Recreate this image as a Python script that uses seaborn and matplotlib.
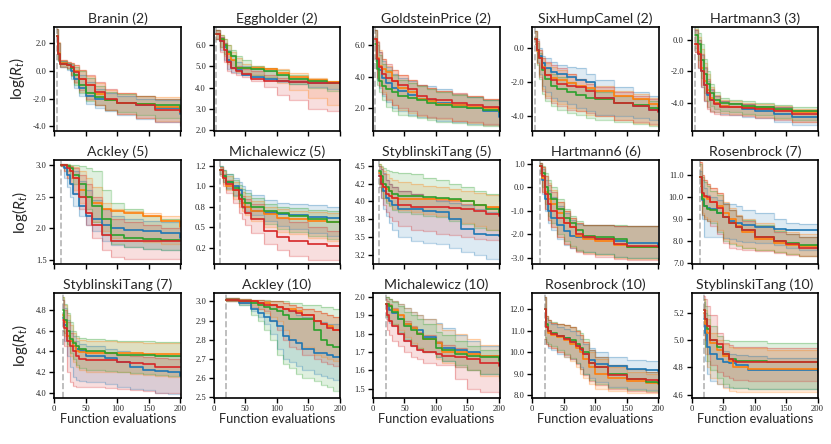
import pandas as pd
import matplotlib
matplotlib.use('Agg')
import matplotlib.pyplot as plt
from matplotlib.ticker import FormatStrFormatter
import seaborn as sns

# four methods, order: blue, orange, green, red
methods = ['m1', 'm2', 'm3', 'm4']

titles = ['Branin (2)', 'Eggholder (2)', 'GoldsteinPrice (2)', 'SixHumpCamel (2)', 'Hartmann3 (3)',
          'Ackley (5)', 'Michalewicz (5)', 'StyblinskiTang (5)', 'Hartmann6 (6)', 'Rosenbrock (7)',
          'StyblinskiTang (7)', 'Ackley (10)', 'Michalewicz (10)', 'Rosenbrock (10)', 'StyblinskiTang (10)']
n_init = [4, 4, 4, 4, 6, 10, 10, 10, 12, 14, 14, 20, 20, 20, 20]

# Branin (2)
branin_x = [4, 6, 9, 20, 26, 32, 40, 50, 65, 80, 100, 130, 160, 200]
branin_med = [[2.5, 1.2, 0.55, 0.4, 0.0, -0.6, -1.2, -1.8, -2.0, -2.1, -2.3, -2.5, -2.7, -3.1],
              [2.5, 1.3, 0.55, 0.45, 0.3, 0.0, -0.6, -1.0, -1.7, -2.1, -2.3, -2.4, -2.6, -2.95],
              [2.5, 1.2, 0.5, 0.45, 0.2, -0.3, -1.0, -1.6, -1.9, -2.1, -2.3, -2.4, -2.5, -2.75],
              [2.5, 1.2, 0.5, 0.4, 0.3, -0.1, -0.6, -1.0, -1.5, -2.0, -2.3, -2.5, -2.8, -3.0]]
branin_hi = [[3.0, 2.0, 0.7, 0.6, 0.4, 0.1, -0.3, -0.8, -1.3, -1.6, -1.8, -2.0, -2.1, -2.3],
             [3.0, 2.1, 0.8, 0.65, 0.55, 0.4, 0.1, -0.4, -0.9, -1.4, -1.6, -1.8, -1.9, -2.0],
             [3.0, 2.0, 0.75, 0.6, 0.5, 0.3, 0.0, -0.5, -1.1, -1.5, -1.7, -1.8, -2.0, -2.1],
             [3.0, 2.0, 0.8, 0.65, 0.55, 0.4, 0.1, -0.3, -0.8, -1.3, -1.6, -1.8, -2.0, -2.0]]
branin_lo = [[2.0, 0.7, 0.3, 0.1, -0.6, -1.2, -1.8, -2.4, -2.7, -2.9, -3.2, -3.5, -3.7, -3.95],
             [2.0, 0.8, 0.35, 0.2, -0.3, -0.9, -1.5, -2.1, -2.5, -2.8, -3.1, -3.4, -3.6, -3.8],
             [2.0, 0.7, 0.3, 0.15, -0.4, -1.0, -1.6, -2.2, -2.5, -2.8, -3.0, -3.2, -3.4, -3.6],
             [2.0, 0.8, 0.3, 0.2, -0.3, -0.8, -1.4, -2.0, -2.5, -2.8, -3.1, -3.4, -3.7, -3.9]]

# Eggholder (2)
egg_x = [4, 10, 16, 22, 28, 35, 45, 60, 80, 100, 120, 150, 180, 200]
egg_med = [[6.55, 6.2, 5.9, 5.3, 4.95, 4.85, 4.6, 4.5, 4.4, 4.3, 4.25, 4.22, 4.2, 4.2],
           [6.55, 6.3, 6.0, 5.6, 5.3, 4.95, 4.95, 4.95, 4.9, 4.7, 4.5, 4.35, 4.25, 4.2],
           [6.55, 6.3, 6.0, 5.7, 5.5, 4.95, 4.95, 4.9, 4.8, 4.6, 4.4, 4.3, 4.22, 4.2],
           [6.55, 6.2, 5.8, 5.2, 4.95, 4.8, 4.65, 4.4, 4.3, 4.3, 4.25, 4.22, 4.2, 4.18]]
egg_hi = [[6.7, 6.4, 6.1, 5.8, 5.5, 5.2, 5.0, 4.9, 4.8, 4.6, 4.45, 4.3, 4.28, 4.27],
          [6.7, 6.5, 6.3, 6.0, 5.7, 5.4, 5.1, 5.0, 4.95, 4.9, 4.7, 4.45, 4.3, 4.28],
          [6.7, 6.5, 6.3, 6.0, 5.8, 5.5, 5.3, 5.0, 4.95, 4.85, 4.6, 4.4, 4.3, 4.28],
          [6.7, 6.4, 6.1, 5.7, 5.3, 5.0, 4.9, 4.8, 4.6, 4.45, 4.35, 4.3, 4.27, 4.25]]
egg_lo = [[6.3, 5.8, 5.3, 4.9, 4.75, 4.7, 4.6, 4.5, 4.35, 4.25, 4.15, 4.05, 3.95, 3.9],
          [6.3, 5.9, 5.5, 5.1, 4.9, 4.75, 4.7, 4.6, 4.45, 4.2, 3.9, 3.5, 3.2, 3.1],
          [6.3, 5.9, 5.6, 5.2, 4.95, 4.8, 4.7, 4.6, 4.5, 4.3, 4.15, 4.0, 3.85, 3.75],
          [6.3, 5.7, 5.2, 4.8, 4.7, 4.6, 4.5, 4.3, 4.05, 3.65, 3.4, 3.0, 2.9, 2.2]]

# GoldsteinPrice (2)
gp_x = [4, 7, 10, 15, 20, 30, 40, 55, 70, 85, 100, 125, 150, 175, 200]
gp_med = [[6.4, 5.0, 4.4, 3.9, 3.6, 3.3, 3.1, 2.85, 2.6, 2.5, 2.35, 2.2, 2.0, 1.8, 1.45],
          [6.4, 5.2, 4.7, 4.5, 4.3, 3.7, 3.3, 3.0, 2.6, 2.45, 2.3, 2.2, 2.1, 2.0, 1.85],
          [6.1, 4.5, 3.7, 3.4, 3.2, 3.0, 2.8, 2.65, 2.5, 2.35, 2.2, 2.1, 2.0, 1.9, 1.75],
          [6.4, 5.1, 4.6, 4.2, 3.9, 3.7, 3.5, 3.2, 2.8, 2.6, 2.5, 2.35, 2.2, 2.05, 1.9]]
gp_hi = [[7.0, 6.2, 5.6, 5.0, 4.6, 4.2, 3.9, 3.7, 3.5, 3.4, 3.2, 2.9, 2.7, 2.5, 2.3],
         [7.0, 6.3, 5.7, 5.1, 4.7, 4.4, 4.1, 3.8, 3.5, 3.3, 3.1, 2.9, 2.8, 2.6, 2.5],
         [7.0, 6.0, 5.4, 4.8, 4.4, 4.1, 3.8, 3.6, 3.4, 3.2, 3.0, 2.85, 2.7, 2.5, 2.3],
         [7.0, 6.2, 5.6, 5.1, 4.8, 4.4, 4.1, 3.8, 3.5, 3.3, 3.1, 2.95, 2.8, 2.6, 2.4]]
gp_lo = [[5.2, 3.8, 3.3, 2.8, 2.4, 2.0, 1.8, 1.6, 1.45, 1.35, 1.2, 1.1, 1.0, 0.95, 0.85],
         [5.3, 4.0, 3.5, 3.0, 2.6, 2.2, 1.9, 1.7, 1.5, 1.4, 1.3, 1.2, 1.05, 0.95, 0.8],
         [5.0, 3.5, 3.0, 2.5, 2.1, 1.8, 1.6, 1.5, 1.35, 1.25, 1.15, 1.05, 0.95, 0.9, 0.8],
         [5.2, 3.9, 3.4, 2.9, 2.5, 2.2, 2.0, 1.8, 1.6, 1.45, 1.35, 1.2, 1.1, 1.0, 0.9]]

# SixHumpCamel (2)
shc_x = [4, 7, 10, 15, 20, 30, 40, 55, 70, 85, 100, 130, 160, 185, 200]
shc_med = [[0.5, -0.1, -0.5, -0.9, -1.2, -1.4, -1.5, -1.7, -1.9, -2.0, -2.9, -3.2, -3.4, -3.6, -3.7],
           [0.5, -0.2, -0.6, -1.1, -1.6, -1.75, -1.9, -2.05, -2.2, -2.35, -2.5, -2.8, -3.0, -3.3, -3.45],
           [0.5, -0.1, -0.6, -1.3, -1.8, -2.2, -2.4, -2.6, -2.75, -2.9, -3.0, -3.2, -3.35, -3.5, -3.6],
           [0.5, -0.1, -0.6, -1.2, -1.6, -1.9, -2.1, -2.2, -2.3, -2.5, -2.9, -3.2, -3.4, -3.6, -3.75]]
shc_hi = [[1.0, 0.5, 0.0, -0.5, -0.6, -0.8, -1.0, -1.1, -1.2, -1.5, -1.9, -2.3, -2.6, -2.8, -2.9],
          [1.0, 0.4, -0.1, -0.6, -0.9, -1.1, -1.3, -1.5, -1.8, -2.0, -2.2, -2.5, -2.7, -2.9, -3.0],
          [1.0, 0.3, -0.3, -0.8, -1.2, -1.5, -1.7, -2.0, -2.2, -2.4, -2.6, -2.8, -3.0, -3.1, -3.2],
          [1.0, 0.4, -0.1, -0.6, -0.8, -1.0, -1.2, -1.5, -1.8, -2.1, -2.3, -2.6, -2.8, -3.0, -3.1]]
shc_lo = [[0.2, -0.8, -1.5, -2.2, -2.6, -2.9, -3.1, -3.3, -3.5, -3.7, -3.9, -4.0, -4.1, -4.2, -4.2],
          [0.2, -0.9, -1.6, -2.4, -2.8, -3.1, -3.3, -3.5, -3.7, -3.9, -4.0, -4.2, -4.4, -4.5, -4.55],
          [0.2, -1.0, -1.8, -2.7, -3.1, -3.4, -3.6, -3.8, -3.9, -4.1, -4.2, -4.35, -4.45, -4.55, -4.6],
          [0.2, -0.9, -1.7, -2.5, -2.9, -3.2, -3.4, -3.6, -3.7, -3.8, -4.0, -4.2, -4.35, -4.45, -4.5]]

# Hartmann3 (3)
h3_x = [6, 10, 15, 20, 25, 30, 35, 45, 60, 80, 100, 130, 160, 200]
h3_med = [[-0.3, -0.9, -2.0, -2.9, -3.5, -3.8, -4.0, -4.2, -4.3, -4.4, -4.5, -4.7, -4.9, -5.1],
          [-0.3, -0.8, -1.8, -2.6, -3.2, -3.7, -4.0, -4.2, -4.25, -4.3, -4.35, -4.45, -4.6, -4.85],
          [0.3, -0.3, -1.3, -2.2, -2.8, -3.4, -3.8, -4.0, -4.1, -4.2, -4.3, -4.4, -4.5, -4.85],
          [-0.3, -0.9, -2.0, -2.9, -3.4, -3.8, -4.1, -4.25, -4.3, -4.35, -4.4, -4.5, -4.7, -4.9]]
h3_hi = [[0.6, 0.0, -1.0, -1.8, -2.6, -3.2, -3.6, -3.9, -4.0, -4.1, -4.2, -4.3, -4.5, -4.7],
         [0.7, 0.2, -0.6, -1.5, -2.2, -3.0, -3.5, -3.8, -3.9, -4.0, -4.1, -4.2, -4.4, -4.6],
         [0.8, 0.4, -0.3, -1.2, -2.0, -2.8, -3.3, -3.7, -3.8, -3.9, -4.0, -4.15, -4.3, -4.5],
         [0.6, 0.0, -0.9, -1.7, -2.5, -3.1, -3.6, -3.9, -4.0, -4.1, -4.2, -4.3, -4.45, -4.6]]
h3_lo = [[-0.8, -1.8, -3.0, -3.9, -4.3, -4.5, -4.6, -4.7, -4.8, -4.9, -5.0, -5.2, -5.4, -5.55],
         [-0.8, -1.7, -2.9, -3.8, -4.3, -4.5, -4.6, -4.65, -4.7, -4.8, -4.9, -5.05, -5.2, -5.3],
         [-0.5, -1.3, -2.4, -3.4, -3.9, -4.2, -4.4, -4.5, -4.6, -4.7, -4.8, -4.95, -5.1, -5.4],
         [-0.8, -1.8, -3.0, -3.9, -4.4, -4.6, -4.7, -4.75, -4.8, -4.85, -4.95, -5.1, -5.25, -5.4]]

# Ackley (5)
ack5_x = [10, 15, 20, 25, 30, 40, 50, 60, 75, 90, 110, 140, 170, 200]
ack5_med = [[3.0, 2.95, 2.85, 2.7, 2.55, 2.35, 2.2, 2.15, 2.05, 2.0, 1.97, 1.95, 1.93, 1.85],
            [3.0, 3.0, 2.98, 2.9, 2.8, 2.6, 2.5, 2.4, 2.3, 2.27, 2.24, 2.2, 2.12, 2.02],
            [3.0, 3.0, 2.98, 2.95, 2.85, 2.7, 2.5, 2.35, 2.15, 1.9, 1.85, 1.83, 1.82, 1.82],
            [3.0, 3.0, 2.95, 2.9, 2.8, 2.5, 2.25, 2.05, 1.9, 1.8, 1.8, 1.8, 1.8, 1.8]]
ack5_hi = [[3.02, 3.0, 2.98, 2.95, 2.9, 2.75, 2.6, 2.45, 2.3, 2.2, 2.15, 2.12, 2.1, 2.08],
           [3.02, 3.01, 3.0, 2.99, 2.97, 2.9, 2.8, 2.65, 2.4, 2.3, 2.28, 2.25, 2.2, 2.17],
           [3.02, 3.02, 3.01, 3.0, 3.0, 2.98, 2.95, 2.9, 2.6, 2.4, 2.3, 2.2, 2.15, 2.1],
           [3.02, 3.01, 3.0, 2.98, 2.95, 2.85, 2.7, 2.5, 2.3, 2.15, 2.1, 2.05, 2.0, 1.98]]
ack5_lo = [[2.98, 2.8, 2.65, 2.5, 2.35, 2.2, 2.05, 1.95, 1.8, 1.73, 1.7, 1.68, 1.66, 1.65],
           [2.98, 2.9, 2.8, 2.7, 2.6, 2.4, 2.25, 2.1, 1.95, 1.85, 1.8, 1.78, 1.76, 1.75],
           [2.99, 2.95, 2.9, 2.8, 2.7, 2.5, 2.3, 2.1, 1.9, 1.75, 1.7, 1.68, 1.66, 1.65],
           [2.98, 2.9, 2.8, 2.7, 2.55, 2.3, 2.05, 1.85, 1.65, 1.55, 1.52, 1.52, 1.52, 1.52]]

# Michalewicz (5)
mic5_x = [10, 15, 20, 30, 40, 45, 50, 60, 80, 100, 120, 150, 180, 200]
mic5_med = [[1.2, 1.12, 1.05, 1.0, 0.95, 0.8, 0.75, 0.7, 0.68, 0.66, 0.65, 0.63, 0.62, 0.6],
            [1.2, 1.1, 1.0, 0.95, 0.85, 0.8, 0.75, 0.7, 0.66, 0.62, 0.6, 0.58, 0.57, 0.57],
            [1.2, 1.12, 1.05, 0.98, 0.9, 0.85, 0.8, 0.75, 0.7, 0.67, 0.64, 0.6, 0.57, 0.54],
            [1.2, 1.1, 1.03, 0.95, 0.85, 0.75, 0.68, 0.6, 0.46, 0.38, 0.33, 0.3, 0.27, 0.25]]
mic5_hi = [[1.25, 1.2, 1.15, 1.1, 1.05, 1.0, 0.95, 0.9, 0.83, 0.8, 0.78, 0.77, 0.75, 0.72],
           [1.24, 1.18, 1.12, 1.05, 0.98, 0.93, 0.88, 0.82, 0.75, 0.72, 0.7, 0.69, 0.68, 0.68],
           [1.25, 1.2, 1.15, 1.08, 1.02, 0.97, 0.92, 0.86, 0.79, 0.75, 0.73, 0.71, 0.7, 0.69],
           [1.23, 1.15, 1.08, 1.0, 0.92, 0.88, 0.84, 0.78, 0.7, 0.62, 0.56, 0.5, 0.46, 0.45]]
mic5_lo = [[1.15, 1.05, 0.98, 0.9, 0.82, 0.75, 0.7, 0.65, 0.58, 0.52, 0.48, 0.43, 0.4, 0.38],
           [1.15, 1.03, 0.95, 0.85, 0.75, 0.7, 0.65, 0.58, 0.5, 0.45, 0.42, 0.37, 0.33, 0.3],
           [1.15, 1.05, 0.97, 0.88, 0.8, 0.73, 0.68, 0.62, 0.54, 0.48, 0.44, 0.4, 0.36, 0.33],
           [1.12, 1.0, 0.92, 0.8, 0.68, 0.6, 0.53, 0.43, 0.3, 0.22, 0.15, 0.1, 0.1, 0.1]]

# StyblinskiTang (5)
st5_x = [10, 13, 16, 20, 25, 30, 40, 60, 80, 100, 120, 140, 160, 180, 200]
st5_med = [[4.35, 4.25, 4.15, 4.05, 4.0, 3.95, 3.9, 3.9, 3.87, 3.85, 3.75, 3.62, 3.55, 3.53, 3.52],
           [4.4, 4.3, 4.2, 4.18, 4.15, 4.05, 4.04, 4.03, 4.03, 4.03, 4.02, 4.0, 3.95, 3.92, 3.87],
           [4.42, 4.35, 4.25, 4.2, 4.15, 4.1, 4.08, 4.07, 4.06, 4.05, 4.03, 4.0, 3.95, 3.9, 3.82],
           [4.35, 4.25, 4.2, 4.1, 4.07, 4.05, 3.95, 3.92, 3.92, 3.92, 3.91, 3.9, 3.87, 3.83, 3.8]]
st5_hi = [[4.5, 4.45, 4.4, 4.3, 4.25, 4.2, 4.15, 4.1, 4.05, 4.0, 3.98, 3.95, 3.9, 3.85, 3.8],
          [4.52, 4.48, 4.42, 4.38, 4.33, 4.3, 4.27, 4.25, 4.22, 4.2, 4.17, 4.15, 4.12, 4.09, 4.07],
          [4.52, 4.5, 4.47, 4.44, 4.42, 4.41, 4.4, 4.38, 4.33, 4.3, 4.25, 4.2, 4.15, 4.1, 4.0],
          [4.5, 4.45, 4.38, 4.3, 4.25, 4.2, 4.15, 4.1, 4.05, 4.02, 4.0, 3.97, 3.95, 3.92, 3.9]]
st5_lo = [[4.2, 4.05, 3.9, 3.8, 3.7, 3.6, 3.5, 3.45, 3.42, 3.4, 3.35, 3.3, 3.25, 3.2, 3.15],
          [4.25, 4.15, 4.05, 4.0, 3.95, 3.9, 3.88, 3.85, 3.82, 3.8, 3.75, 3.7, 3.65, 3.6, 3.55],
          [4.25, 4.15, 4.05, 3.98, 3.93, 3.88, 3.85, 3.83, 3.8, 3.78, 3.73, 3.68, 3.63, 3.6, 3.58],
          [4.2, 4.05, 3.95, 3.85, 3.78, 3.72, 3.65, 3.6, 3.58, 3.55, 3.53, 3.5, 3.48, 3.46, 3.45]]

# Hartmann6 (6)
h6_x = [12, 15, 20, 25, 30, 40, 50, 60, 70, 80, 100, 130, 150, 200]
h6_med = [[0.9, 0.3, -0.5, -1.0, -1.3, -1.6, -1.85, -2.05, -2.1, -2.15, -2.2, -2.3, -2.35, -2.5],
          [0.9, 0.4, -0.2, -0.5, -0.7, -1.1, -1.5, -1.7, -2.05, -2.2, -2.3, -2.45, -2.55, -2.55],
          [0.9, 0.6, 0.0, -0.3, -0.5, -0.9, -1.3, -1.5, -1.8, -2.05, -2.1, -2.2, -2.55, -2.55],
          [0.9, 0.5, -0.3, -0.7, -1.0, -1.3, -1.5, -1.7, -2.0, -2.1, -2.2, -2.4, -2.5, -2.55]]
h6_hi = [[1.05, 0.8, 0.3, -0.1, -0.4, -0.8, -1.1, -1.4, -1.55, -1.6, -1.62, -1.63, -1.64, -1.65],
         [1.05, 0.85, 0.5, 0.2, -0.1, -0.6, -1.0, -1.3, -1.5, -1.6, -1.62, -1.63, -1.64, -1.65],
         [1.05, 0.9, 0.6, 0.3, 0.0, -0.5, -0.9, -1.2, -1.45, -1.58, -1.6, -1.62, -1.63, -1.64],
         [1.05, 0.85, 0.5, 0.1, -0.2, -0.6, -1.0, -1.3, -1.5, -1.6, -1.62, -1.63, -1.64, -1.65]]
h6_lo = [[0.6, -0.3, -1.0, -1.5, -1.8, -2.2, -2.45, -2.6, -2.7, -2.75, -2.85, -2.95, -3.0, -3.05],
         [0.6, -0.2, -0.9, -1.4, -1.7, -2.1, -2.4, -2.55, -2.7, -2.8, -2.9, -3.0, -3.05, -3.1],
         [0.7, 0.0, -0.7, -1.2, -1.5, -2.0, -2.3, -2.5, -2.65, -2.75, -2.85, -2.95, -3.0, -3.05],
         [0.6, -0.2, -0.9, -1.4, -1.7, -2.1, -2.4, -2.6, -2.75, -2.85, -2.95, -3.05, -3.1, -3.1]]

# Rosenbrock (7)
ros7_x = [14, 16, 20, 25, 30, 40, 50, 60, 70, 80, 100, 130, 150, 170, 200]
ros7_med = [[10.9, 9.85, 9.6, 9.5, 9.45, 9.3, 9.1, 8.9, 8.8, 8.75, 8.65, 8.55, 8.5, 8.48, 8.47],
            [10.9, 10.1, 10.0, 9.9, 9.8, 9.6, 9.3, 9.0, 8.7, 8.4, 8.1, 7.9, 7.8, 7.75, 7.72],
            [10.9, 9.9, 9.6, 9.45, 9.4, 9.3, 9.1, 8.8, 8.65, 8.5, 8.2, 8.0, 7.9, 7.82, 7.78],
            [10.9, 10.2, 10.05, 10.0, 9.8, 9.5, 9.1, 8.8, 8.65, 8.5, 8.2, 8.0, 7.85, 7.7, 7.65]]
ros7_hi = [[11.2, 10.8, 10.4, 10.1, 10.0, 9.85, 9.75, 9.7, 9.6, 9.4, 9.3, 9.0, 8.8, 8.78, 8.75],
           [11.6, 11.0, 10.8, 10.6, 10.4, 10.2, 9.8, 9.5, 9.2, 9.0, 8.8, 8.5, 8.4, 8.3, 8.2],
           [11.5, 10.9, 10.7, 10.5, 10.3, 10.1, 9.7, 9.4, 9.15, 8.95, 8.75, 8.45, 8.3, 8.2, 8.1],
           [11.6, 11.0, 10.8, 10.6, 10.4, 10.2, 9.7, 9.4, 9.15, 8.9, 8.7, 8.4, 8.3, 8.2, 8.1]]
ros7_lo = [[10.5, 9.0, 8.2, 8.2, 8.2, 8.2, 8.15, 8.1, 8.0, 7.95, 7.9, 7.8, 7.7, 7.6, 7.5],
           [10.5, 9.3, 9.1, 9.0, 8.9, 8.5, 8.1, 7.9, 7.8, 7.7, 7.6, 7.5, 7.4, 7.3, 7.2],
           [10.5, 9.2, 9.0, 8.9, 8.8, 8.4, 8.0, 7.85, 7.75, 7.7, 7.6, 7.5, 7.4, 7.3, 7.25],
           [10.5, 9.2, 9.0, 8.9, 8.7, 8.3, 7.9, 7.7, 7.65, 7.6, 7.55, 7.45, 7.35, 7.3, 7.2]]

# StyblinskiTang (7)
st7_x = [14, 16, 20, 25, 30, 35, 40, 50, 80, 100, 120, 140, 160, 180, 200]
st7_med = [[4.72, 4.65, 4.55, 4.5, 4.45, 4.42, 4.4, 4.35, 4.33, 4.3, 4.25, 4.22, 4.21, 4.2, 4.16],
           [4.75, 4.68, 4.55, 4.5, 4.45, 4.4, 4.39, 4.38, 4.38, 4.38, 4.38, 4.37, 4.37, 4.37, 4.37],
           [4.8, 4.7, 4.6, 4.52, 4.48, 4.45, 4.42, 4.4, 4.38, 4.36, 4.36, 4.36, 4.35, 4.35, 4.35],
           [4.7, 4.62, 4.5, 4.45, 4.4, 4.35, 4.32, 4.31, 4.31, 4.3, 4.29, 4.28, 4.25, 4.25, 4.25]]
st7_hi = [[4.9, 4.82, 4.7, 4.6, 4.55, 4.5, 4.47, 4.45, 4.42, 4.4, 4.38, 4.37, 4.36, 4.35, 4.35],
          [4.92, 4.85, 4.75, 4.65, 4.58, 4.53, 4.51, 4.5, 4.5, 4.49, 4.49, 4.48, 4.48, 4.48, 4.48],
          [4.92, 4.86, 4.77, 4.68, 4.6, 4.55, 4.53, 4.52, 4.51, 4.5, 4.5, 4.5, 4.49, 4.49, 4.49],
          [4.9, 4.8, 4.68, 4.58, 4.5, 4.45, 4.42, 4.4, 4.38, 4.36, 4.35, 4.34, 4.33, 4.32, 4.3]]
st7_lo = [[4.6, 4.5, 4.35, 4.25, 4.15, 4.12, 4.11, 4.1, 4.08, 4.05, 4.03, 4.02, 4.0, 3.99, 3.98],
          [4.65, 4.55, 4.45, 4.35, 4.3, 4.25, 4.22, 4.2, 4.2, 4.2, 4.18, 4.17, 4.16, 4.15, 4.15],
          [4.65, 4.58, 4.47, 4.38, 4.32, 4.27, 4.24, 4.22, 4.21, 4.2, 4.19, 4.18, 4.17, 4.16, 4.16],
          [4.6, 4.45, 4.2, 4.1, 4.06, 4.05, 4.05, 4.05, 4.04, 4.03, 4.02, 4.01, 4.0, 4.0, 3.99]]

# Ackley (10)
ack10_x = [20, 40, 60, 70, 80, 90, 100, 110, 120, 130, 140, 160, 170, 180, 190, 200]
ack10_med = [[3.01, 2.99, 2.96, 2.94, 2.92, 2.9, 2.87, 2.82, 2.8, 2.78, 2.75, 2.73, 2.73, 2.72, 2.71, 2.71],
             [3.01, 3.0, 3.0, 2.99, 2.99, 2.98, 2.97, 2.96, 2.96, 2.95, 2.93, 2.9, 2.88, 2.87, 2.85, 2.845],
             [3.01, 3.0, 2.99, 2.98, 2.97, 2.96, 2.95, 2.93, 2.91, 2.91, 2.91, 2.85, 2.8, 2.77, 2.76, 2.72],
             [3.01, 3.0, 3.0, 2.99, 2.98, 2.98, 2.97, 2.96, 2.95, 2.94, 2.93, 2.9, 2.88, 2.86, 2.85, 2.84]]
ack10_hi = [[3.02, 3.01, 3.0, 2.99, 2.99, 2.98, 2.97, 2.96, 2.95, 2.93, 2.92, 2.9, 2.89, 2.88, 2.88, 2.88],
            [3.02, 3.015, 3.01, 3.01, 3.0, 3.0, 3.0, 2.99, 2.98, 2.97, 2.96, 2.95, 2.94, 2.93, 2.92, 2.92],
            [3.02, 3.015, 3.01, 3.01, 3.01, 3.0, 3.0, 3.0, 2.99, 2.99, 2.98, 2.98, 2.97, 2.97, 2.96, 2.95],
            [3.02, 3.015, 3.01, 3.01, 3.0, 3.0, 3.0, 2.99, 2.98, 2.97, 2.96, 2.95, 2.94, 2.93, 2.92, 2.91]]
ack10_lo = [[3.0, 2.98, 2.95, 2.92, 2.88, 2.83, 2.75, 2.7, 2.68, 2.66, 2.64, 2.62, 2.61, 2.6, 2.59, 2.58],
            [3.0, 2.99, 2.98, 2.96, 2.94, 2.92, 2.9, 2.85, 2.8, 2.78, 2.76, 2.72, 2.71, 2.7, 2.69, 2.69],
            [3.0, 2.98, 2.93, 2.9, 2.85, 2.8, 2.72, 2.67, 2.65, 2.62, 2.6, 2.58, 2.56, 2.55, 2.53, 2.52],
            [3.0, 2.99, 2.97, 2.96, 2.95, 2.9, 2.85, 2.8, 2.76, 2.75, 2.72, 2.7, 2.68, 2.67, 2.66, 2.65]]

# Michalewicz (10)
mic10_x = [20, 22, 25, 30, 40, 50, 60, 70, 80, 100, 110, 130, 150, 170, 200]
mic10_med = [[1.96, 1.95, 1.93, 1.91, 1.88, 1.85, 1.83, 1.82, 1.78, 1.75, 1.72, 1.71, 1.7, 1.68, 1.67],
             [1.96, 1.96, 1.95, 1.93, 1.9, 1.85, 1.83, 1.8, 1.77, 1.75, 1.7, 1.7, 1.69, 1.68, 1.66],
             [1.96, 1.96, 1.95, 1.92, 1.88, 1.84, 1.82, 1.8, 1.77, 1.72, 1.71, 1.69, 1.68, 1.67, 1.65],
             [1.96, 1.9, 1.87, 1.84, 1.8, 1.76, 1.73, 1.71, 1.7, 1.69, 1.68, 1.67, 1.66, 1.64, 1.625]]
mic10_hi = [[2.0, 2.0, 1.99, 1.98, 1.96, 1.94, 1.92, 1.9, 1.88, 1.86, 1.83, 1.79, 1.76, 1.73, 1.71],
            [2.0, 2.0, 1.99, 1.98, 1.96, 1.94, 1.92, 1.9, 1.88, 1.85, 1.82, 1.8, 1.77, 1.74, 1.73],
            [2.0, 2.0, 1.99, 1.97, 1.95, 1.92, 1.9, 1.88, 1.85, 1.81, 1.79, 1.76, 1.73, 1.71, 1.7],
            [1.99, 1.98, 1.96, 1.94, 1.9, 1.87, 1.84, 1.81, 1.79, 1.76, 1.74, 1.72, 1.7, 1.68, 1.66]]
mic10_lo = [[1.9, 1.88, 1.86, 1.84, 1.8, 1.76, 1.73, 1.71, 1.7, 1.67, 1.65, 1.62, 1.6, 1.58, 1.57],
            [1.9, 1.89, 1.87, 1.85, 1.82, 1.78, 1.75, 1.72, 1.7, 1.66, 1.64, 1.62, 1.6, 1.57, 1.54],
            [1.9, 1.89, 1.87, 1.85, 1.81, 1.77, 1.74, 1.72, 1.7, 1.67, 1.65, 1.63, 1.6, 1.58, 1.56],
            [1.88, 1.82, 1.79, 1.76, 1.73, 1.7, 1.67, 1.66, 1.64, 1.63, 1.63, 1.55, 1.5, 1.48, 1.47]]

# Rosenbrock (10)
ros10_x = [20, 22, 25, 30, 40, 50, 60, 70, 75, 80, 90, 100, 120, 150, 180, 200]
ros10_med = [[12.0, 11.2, 11.0, 10.85, 10.75, 10.65, 10.5, 10.3, 10.1, 9.9, 9.65, 9.45, 9.34, 9.2, 9.15, 9.12],
             [12.0, 11.2, 10.9, 10.8, 10.7, 10.55, 10.4, 10.2, 10.0, 9.7, 9.3, 9.0, 8.8, 8.65, 8.55, 8.52],
             [12.0, 11.3, 11.0, 10.9, 10.75, 10.65, 10.55, 10.4, 10.2, 10.0, 9.5, 9.3, 9.0, 8.75, 8.6, 8.55],
             [12.0, 11.2, 11.0, 10.85, 10.75, 10.6, 10.5, 10.3, 10.15, 9.9, 9.5, 9.3, 8.95, 8.75, 8.7, 8.65]]
ros10_hi = [[12.6, 11.6, 11.4, 11.3, 11.2, 11.1, 11.0, 10.8, 10.6, 10.4, 10.2, 10.0, 9.8, 9.65, 9.6, 9.6],
            [12.6, 11.7, 11.5, 11.35, 11.3, 11.25, 11.2, 11.0, 10.8, 10.5, 10.0, 9.7, 9.3, 9.1, 9.0, 8.95],
            [12.6, 11.7, 11.5, 11.4, 11.3, 11.25, 11.2, 11.05, 10.9, 10.6, 10.1, 9.8, 9.4, 9.2, 9.1, 9.05],
            [12.6, 11.7, 11.5, 11.35, 11.3, 11.25, 11.2, 11.0, 10.8, 10.5, 10.1, 9.8, 9.4, 9.2, 9.1, 9.05]]
ros10_lo = [[10.6, 10.4, 10.2, 10.1, 9.9, 9.8, 9.7, 9.5, 9.3, 9.0, 8.8, 8.6, 8.4, 8.3, 8.25, 8.2],
            [10.6, 10.4, 10.3, 10.2, 10.0, 9.8, 9.6, 9.3, 9.0, 8.8, 8.5, 8.3, 8.2, 8.12, 8.1, 8.08],
            [10.7, 10.5, 10.4, 10.3, 10.1, 9.9, 9.75, 9.5, 9.2, 9.0, 8.7, 8.5, 8.35, 8.25, 8.2, 8.15],
            [10.6, 10.4, 10.3, 10.2, 10.0, 9.85, 9.7, 9.45, 9.2, 8.95, 8.65, 8.45, 8.3, 8.2, 8.15, 8.12]]

# StyblinskiTang (10)
st10_x = [20, 22, 25, 30, 40, 50, 60, 65, 70, 90, 120, 200]
st10_med = [[5.15, 5.05, 4.95, 4.9, 4.86, 4.84, 4.83, 4.83, 4.82, 4.78, 4.78, 4.77],
            [5.2, 5.12, 5.05, 4.98, 4.93, 4.88, 4.85, 4.8, 4.8, 4.79, 4.79, 4.79],
            [5.22, 5.15, 5.08, 5.0, 4.95, 4.9, 4.86, 4.86, 4.85, 4.85, 4.84, 4.82],
            [5.22, 5.15, 5.1, 5.0, 4.97, 4.9, 4.86, 4.85, 4.84, 4.84, 4.84, 4.84]]
st10_hi = [[5.28, 5.2, 5.1, 5.0, 4.95, 4.92, 4.9, 4.9, 4.89, 4.88, 4.87, 4.87],
           [5.3, 5.22, 5.15, 5.05, 5.0, 4.97, 4.95, 4.94, 4.94, 4.94, 4.93, 4.93],
           [5.3, 5.25, 5.18, 5.1, 5.03, 5.0, 4.99, 4.99, 4.99, 4.99, 4.98, 4.98],
           [5.32, 5.3, 5.25, 5.18, 5.05, 4.98, 4.96, 4.95, 4.95, 4.95, 4.94, 4.9]]
st10_lo = [[5.05, 4.85, 4.75, 4.7, 4.68, 4.66, 4.65, 4.65, 4.65, 4.64, 4.64, 4.63],
           [5.1, 4.9, 4.8, 4.72, 4.68, 4.65, 4.63, 4.63, 4.62, 4.62, 4.62, 4.61],
           [5.1, 4.95, 4.85, 4.78, 4.72, 4.68, 4.66, 4.65, 4.65, 4.64, 4.64, 4.64],
           [5.12, 5.0, 4.9, 4.82, 4.77, 4.74, 4.72, 4.71, 4.71, 4.7, 4.7, 4.7]]

xs = [branin_x, egg_x, gp_x, shc_x, h3_x, ack5_x, mic5_x, st5_x, h6_x, ros7_x, st7_x, ack10_x, mic10_x, ros10_x, st10_x]
meds = [branin_med, egg_med, gp_med, shc_med, h3_med, ack5_med, mic5_med, st5_med, h6_med, ros7_med,
        st7_med, ack10_med, mic10_med, ros10_med, st10_med]
his = [branin_hi, egg_hi, gp_hi, shc_hi, h3_hi, ack5_hi, mic5_hi, st5_hi, h6_hi, ros7_hi,
       st7_hi, ack10_hi, mic10_hi, ros10_hi, st10_hi]
los = [branin_lo, egg_lo, gp_lo, shc_lo, h3_lo, ack5_lo, mic5_lo, st5_lo, h6_lo, ros7_lo,
       st7_lo, ack10_lo, mic10_lo, ros10_lo, st10_lo]

ylims = [(-4.35, 3.2), (1.95, 6.88), (0.55, 7.18), (-4.86, 1.24), (-5.8, 0.83),
         (1.43, 3.08), (0.05, 1.32), (3.12, 4.58), (-3.28, 1.17), (6.93, 11.7),
         (3.95, 4.96), (2.495, 3.043), (1.45, 2.02), (7.88, 12.75), (4.58, 5.34)]
yticks = [[-4, -2, 0, 2], [2, 3, 4, 5, 6], [2, 4, 6], [-4, -2, 0], [-4, -2, 0],
          [1.5, 2.0, 2.5, 3.0], [0.25, 0.5, 0.75, 1.0, 1.25], [3.25, 3.5, 3.75, 4.0, 4.25, 4.5],
          [-3, -2, -1, 0, 1], [7, 8, 9, 10, 11],
          [4.0, 4.2, 4.4, 4.6, 4.8], [2.5, 2.6, 2.7, 2.8, 2.9, 3.0], [1.5, 1.6, 1.7, 1.8, 1.9, 2.0],
          [8, 9, 10, 11, 12], [4.6, 4.8, 5.0, 5.2]]

sns.set_theme(style='ticks')
plt.rcParams['font.family'] = ['Lato', 'DejaVu Sans']
plt.rcParams['mathtext.fontset'] = 'custom'
plt.rcParams['mathtext.rm'] = 'Lato'
plt.rcParams['mathtext.it'] = 'Lato:italic'
plt.rcParams['axes.edgecolor'] = 'black'
plt.rcParams['axes.linewidth'] = 1.2
colors = sns.color_palette('tab10', 4)

fig, axes = plt.subplots(3, 5, figsize=(8.31, 4.44), dpi=100)
fig.subplots_adjust(left=0.0653, right=0.9847, top=0.9399, bottom=0.1043, wspace=0.257, hspace=0.277)

for i, ax in enumerate(axes.flat):
    x = xs[i]
    rows = []
    for m, vals in zip(methods, meds[i]):
        for xv, yv in zip(x, vals):
            rows.append({'evals': xv, 'value': yv, 'method': m})
    df = pd.DataFrame(rows)

    for c, lo, hi in zip(colors, los[i], his[i]):
        ax.fill_between(x, lo, hi, step='post', color=c, alpha=0.15, lw=0)
        ax.plot(x, lo, drawstyle='steps-post', color=c, alpha=0.3, lw=0.9)
        ax.plot(x, hi, drawstyle='steps-post', color=c, alpha=0.3, lw=0.9)
    sns.lineplot(data=df, x='evals', y='value', hue='method', palette=colors,
                 drawstyle='steps-post', estimator=None, legend=False, lw=1.2, ax=ax)
    ax.axvline(n_init[i], color='#b4b4b4', ls='--', lw=1.2, zorder=0)

    ax.set_xlim(0, 201)
    ax.set_ylim(ylims[i])
    ax.set_yticks(yticks[i])
    ax.yaxis.set_major_formatter(FormatStrFormatter('%.1f'))
    ax.set_xticks([0, 50, 100, 150, 200])
    ax.tick_params(axis='both', length=3.5, width=1.0, pad=2, labelsize=6.2, color='black')
    for lab in ax.get_xticklabels() + ax.get_yticklabels():
        lab.set_family('Liberation Serif')
    ax.set_title(titles[i], fontsize=10.2, pad=3)
    ax.set_xlabel('')
    ax.set_ylabel('')
    if i % 5 == 0:
        ax.set_ylabel(r'$\mathrm{log}(R_t)$', fontsize=11, labelpad=4)
    if i >= 10:
        ax.set_xlabel('Function evaluations', fontsize=9.2, labelpad=0)
    else:
        ax.set_xticklabels([])

fig.savefig('out.png', dpi=100)
